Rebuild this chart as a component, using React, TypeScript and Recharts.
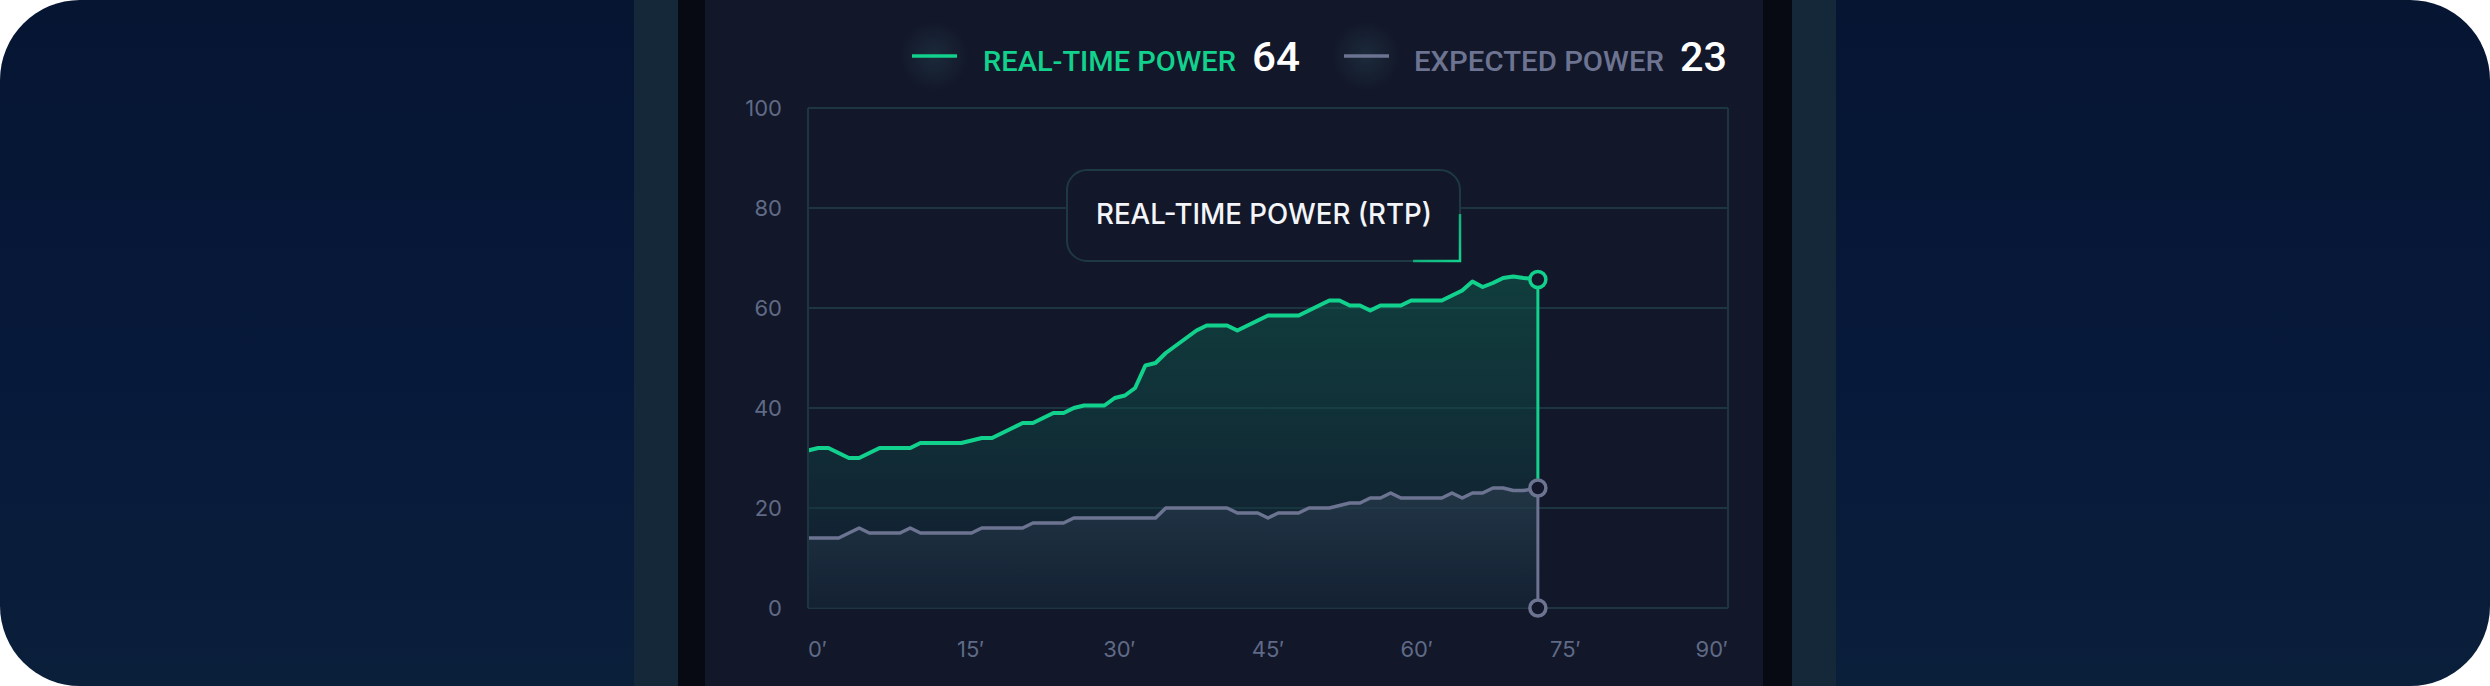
import React from 'react';
import {
  ComposedChart,
  Area,
  XAxis,
  YAxis,
  CartesianGrid,
  ReferenceLine,
  ReferenceDot,
} from 'recharts';

// ---------- data ----------
const minutes = [
  0, 1, 2, 3, 4, 5, 6, 7, 8, 9, 10, 11, 12, 13, 14, 15, 16, 17, 18, 19, 20,
  21, 22, 23, 24, 25, 26, 27, 28, 29, 30, 31, 32, 33, 34, 35, 36, 37, 38, 39,
  40, 41, 42, 43, 44, 45, 46, 47, 48, 49, 50, 51, 52, 53, 54, 55, 56, 57, 58,
  59, 60, 61, 62, 63, 64, 65, 66, 67, 68, 69, 70, 71.4,
];
const realTimePower = [
  31.5, 32, 32, 31, 30, 30, 31, 32, 32, 32, 32, 33, 33, 33, 33, 33, 33.5, 34,
  34, 35, 36, 37, 37, 38, 39, 39, 40, 40.5, 40.5, 40.5, 42, 42.5, 44, 48.5, 49,
  51, 52.5, 54, 55.5, 56.5, 56.5, 56.5, 55.5, 56.5, 57.5, 58.5, 58.5, 58.5,
  58.5, 59.5, 60.5, 61.5, 61.5, 60.5, 60.5, 59.5, 60.5, 60.5, 60.5, 61.5, 61.5,
  61.5, 61.5, 62.5, 63.5, 65.3, 64.2, 65, 66, 66.3, 66, 65.7,
];
const expectedPower = [
  14, 14, 14, 14, 15, 16, 15, 15, 15, 15, 16, 15, 15, 15, 15, 15, 15, 16, 16,
  16, 16, 16, 17, 17, 17, 17, 18, 18, 18, 18, 18, 18, 18, 18, 18, 20, 20, 20,
  20, 20, 20, 20, 19, 19, 19, 18, 19, 19, 19, 20, 20, 20, 20.5, 21, 21, 22, 22,
  23, 22, 22, 22, 22, 22, 23, 22, 23, 23, 24, 24, 23.5, 23.5, 24,
];
const xTicks = [0, 15, 30, 45, 60, 75, 90];
const yTicks = [0, 20, 40, 60, 80, 100];
const legendLabels = ['REAL-TIME POWER', 'EXPECTED POWER'];
const legendValues = [64, 23];
const calloutLabel = 'REAL-TIME POWER (RTP)';

const data = minutes.map((t, i) => ({
  t,
  rtp: realTimePower[i],
  exp: expectedPower[i],
}));
const last = data[data.length - 1];

// ---------- styles ----------
const GREEN = '#12d18d';
const GRAY = '#6d7492';
const GRID = '#1c3540';
const PANEL = '#121729';
const TICK = '#5f6a86';

const W = 1058;
const H = 686;

const XTick = (props: any) => {
  const { x, y, payload } = props;
  const i = xTicks.indexOf(payload.value);
  const n = xTicks.length - 1;
  const anchor = i === 0 ? 'start' : i === n ? 'end' : 'middle';
  const dx = i === 0 || i === n ? 0 : ((n / 2 - i) / n) * 28;
  return (
    <text
      x={x + dx}
      y={y + 49}
      textAnchor={anchor}
      fill={TICK}
      fontSize={22}
      fontFamily="Inter, 'Noto Sans', sans-serif"
    >
      {`${payload.value}\u2032`}
    </text>
  );
};

const LegendOverlay = () => {
  const items = [
    { color: GREEN, sw: 207, lx: 278, lw: 253, vx: 547, vw: 48 },
    { color: GRAY, sw: 639, lx: 709, lw: 250, vx: 975, vw: 47 },
  ];
  return (
    <svg
      width={W}
      height={110}
      style={{ position: 'absolute', left: 0, top: 0, pointerEvents: 'none' }}
    >
      <defs>
        <radialGradient id="swGlow">
          <stop offset="0%" stopColor="#1f3141" stopOpacity={0.75} />
          <stop offset="100%" stopColor="#1f3141" stopOpacity={0} />
        </radialGradient>
      </defs>
      {items.map((it, k) => (
        <g key={k}>
          <circle cx={it.sw + 22} cy={56} r={36} fill="url(#swGlow)" />
          <line
            x1={it.sw}
            x2={it.sw + 45}
            y1={56}
            y2={56}
            stroke={it.color}
            strokeWidth={3.5}
          />
          <text
            x={it.lx}
            y={71}
            fill={it.color}
            fontSize={28}
            fontWeight={500}
            fontFamily="Roboto, 'Noto Sans', sans-serif"
            textLength={it.lw}
            lengthAdjust="spacingAndGlyphs"
          >
            {legendLabels[k]}
          </text>
          <text
            x={it.vx}
            y={71}
            fill="#ffffff"
            fontSize={40}
            fontWeight={500}
            fontFamily="Roboto, 'Noto Sans', sans-serif"
            textLength={it.vw}
            lengthAdjust="spacingAndGlyphs"
          >
            {legendValues[k]}
          </text>
        </g>
      ))}
    </svg>
  );
};

const CalloutOverlay = () => (
  <svg
    width={W}
    height={H}
    style={{ position: 'absolute', left: 0, top: 0, pointerEvents: 'none' }}
  >
    <defs>
      <linearGradient
        id="calloutGreen"
        gradientUnits="userSpaceOnUse"
        x1={715}
        y1={222}
        x2={755}
        y2={261}
      >
        <stop offset="0%" stopColor={GREEN} stopOpacity={0} />
        <stop offset="45%" stopColor={GREEN} stopOpacity={0.8} />
        <stop offset="100%" stopColor={GREEN} stopOpacity={1} />
      </linearGradient>
    </defs>
    <path
      d="M 382 170 H 735 A 20 20 0 0 1 755 190 V 261 H 382 A 20 20 0 0 1 362 241 V 190 A 20 20 0 0 1 382 170 Z"
      fill={PANEL}
      stroke="#1e3943"
      strokeWidth={2}
    />
    <path
      d="M 755 214 V 261 H 708"
      fill="none"
      stroke="url(#calloutGreen)"
      strokeWidth={2.5}
    />
    <text
      x={559}
      y={224}
      textAnchor="middle"
      fill="#f3f5f9"
      fontSize={28}
      fontWeight={500}
      fontFamily="Inter, 'Noto Sans', sans-serif"
      textLength={336}
      lengthAdjust="spacingAndGlyphs"
    >
      {calloutLabel}
    </text>
  </svg>
);

const strip = (left: number, width: number, bg: string) => (
  <div
    style={{
      position: 'absolute',
      left,
      top: 0,
      width,
      height: H,
      background: bg,
    }}
  />
);

export default function App() {
  return (
    <div
      style={{
        position: 'absolute',
        left: 0,
        top: 0,
        width: 2490,
        height: 686,
        overflow: 'hidden',
        background: '#ffffff',
      }}
    >
      <div
        style={{
          position: 'absolute',
          left: 0,
          top: 0,
          width: 2490,
          height: 686,
          borderRadius: 80,
          background: 'linear-gradient(180deg, #051532 0%, #07193a 55%, #0a1f3a 100%)',
        }}
      />
      {strip(634, 44, '#15283a')}
      {strip(678, 27, '#070a12')}
      {strip(705, 1058, PANEL)}
      {strip(1763, 29, '#070a12')}
      {strip(1792, 44, '#15283a')}

      <div style={{ position: 'absolute', left: 705, top: 0, width: W, height: H }}>
        <ComposedChart
          width={W}
          height={H}
          data={data}
          margin={{ top: 108, right: 35, bottom: 28, left: 43 }}
        >
          <defs>
            <linearGradient id="gGreen" x1="0" y1="0" x2="0" y2="1">
              <stop offset="0%" stopColor="#0f5a4c" stopOpacity={0.95} />
              <stop offset="45%" stopColor="#0f4443" stopOpacity={0.9} />
              <stop offset="100%" stopColor="#13263a" stopOpacity={0.6} />
            </linearGradient>
            <linearGradient id="gGray" x1="0" y1="0" x2="0" y2="1">
              <stop offset="0%" stopColor="#2c3f51" stopOpacity={1} />
              <stop offset="100%" stopColor="#142435" stopOpacity={1} />
            </linearGradient>
          </defs>
          <CartesianGrid vertical={false} stroke={GRID} strokeWidth={2} />
          <XAxis
            dataKey="t"
            type="number"
            domain={[0, 90]}
            ticks={xTicks}
            interval={0}
            axisLine={false}
            tickLine={false}
            tickSize={0}
            tickMargin={0}
            height={50}
            tick={<XTick />}
          />
          <YAxis
            type="number"
            domain={[0, 100]}
            ticks={yTicks}
            interval={0}
            axisLine={false}
            tickLine={false}
            tickSize={0}
            tickMargin={26}
            width={60}
            tick={{ fill: TICK, fontSize: 22, fontFamily: "Inter, 'Noto Sans', sans-serif" }}
          />
          <ReferenceLine x={0} stroke={GRID} strokeWidth={2} />
          <ReferenceLine x={90} stroke={GRID} strokeWidth={2} />
          <Area
            type="linear"
            dataKey="rtp"
            stroke={GREEN}
            strokeWidth={4}
            strokeLinejoin="round"
            fill="url(#gGreen)"
            dot={false}
            activeDot={false}
            isAnimationActive={false}
          />
          <Area
            type="linear"
            dataKey="exp"
            stroke={GRAY}
            strokeWidth={3.5}
            strokeLinejoin="round"
            fill="url(#gGray)"
            dot={false}
            activeDot={false}
            isAnimationActive={false}
          />
          <ReferenceLine
            segment={[
              { x: last.t, y: last.rtp },
              { x: last.t, y: last.exp },
            ]}
            stroke={GREEN}
            strokeWidth={3}
          />
          <ReferenceLine
            segment={[
              { x: last.t, y: last.exp },
              { x: last.t, y: 0 },
            ]}
            stroke={GRAY}
            strokeWidth={3}
          />
          <ReferenceDot x={last.t} y={last.rtp} r={8} fill={PANEL} stroke={GREEN} strokeWidth={3.5} />
          <ReferenceDot x={last.t} y={last.exp} r={8} fill={PANEL} stroke={GRAY} strokeWidth={3.5} />
          <ReferenceDot x={last.t} y={0} r={8} fill={PANEL} stroke={GRAY} strokeWidth={3.5} />
        </ComposedChart>
        <CalloutOverlay />
        <LegendOverlay />
      </div>
    </div>
  );
}
